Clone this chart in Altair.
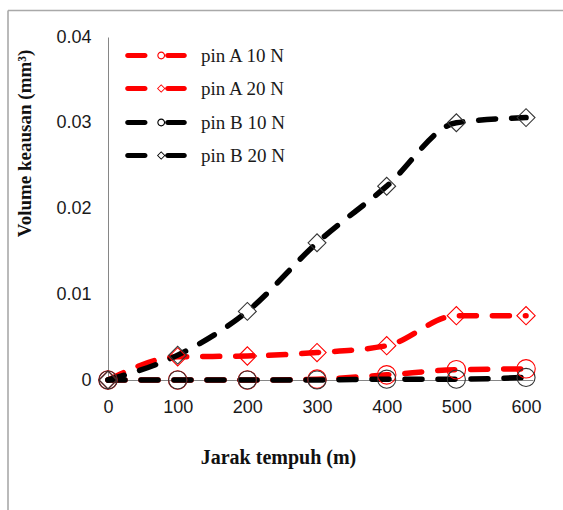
import altair as alt
import pandas as pd

# ---- data ----
distance = [0, 100, 200, 300, 400, 500, 600]
series_names = ["pin A 10 N", "pin A 20 N", "pin B 10 N", "pin B 20 N"]
pin_a_10 = [0.0, 0.0, 0.0, 0.0001, 0.0006, 0.0012, 0.0013]
pin_a_20 = [0.0, 0.0027, 0.0028, 0.0032, 0.0040, 0.0075, 0.0075]
pin_b_10 = [0.0, 0.0, 0.0, 0.0, 0.0001, 0.0001, 0.0003]
pin_b_20 = [0.0, 0.0029, 0.0080, 0.0160, 0.0226, 0.0300, 0.0306]
series_colors = ["#ff0000", "#ff0000", "#000000", "#000000"]
marker_colors = ["#ff0000", "#ff0000", "#333333", "#333333"]
series_shapes = ["circle", "diamond", "circle", "diamond"]
series_sizes = [340, 320, 210, 320]
circle_series = ["pin A 10 N", "pin B 10 N"]
diamond_series = ["pin A 20 N", "pin B 20 N"]
x_ticks = [0, 100, 200, 300, 400, 500, 600]
y_ticks = [0, 0.01, 0.02, 0.03, 0.04]

rows = []
for name, vals in zip(series_names, [pin_a_10, pin_a_20, pin_b_10, pin_b_20]):
    for d, v in zip(distance, vals):
        rows.append({"distance": d, "volume": v, "series": name})
df = pd.DataFrame(rows)
df_circ = df[df["series"].isin(circle_series)]
df_dia = df[df["series"].isin(diamond_series)]

# legend symbols: dash - hollow marker - dash, drawn as filled outlines
left_dash = "M-5.66,-0.5 L-2.2,-0.5 A0.5,0.5 0 0 1 -2.2,0.5 L-5.66,0.5 A0.5,0.5 0 0 1 -5.66,-0.5 Z"
right_dash = "M2.34,-0.5 L5.66,-0.5 A0.5,0.5 0 0 1 5.66,0.5 L2.34,0.5 A0.5,0.5 0 0 1 2.34,-0.5 Z"
ring = ("M1.82,0 A0.78,0.78 0 1 0 0.26,0 A0.78,0.78 0 1 0 1.82,0 Z "
        "M1.6,0 A0.56,0.56 0 1 1 0.48,0 A0.56,0.56 0 1 1 1.6,0 Z")
dia = ("M1.04,-0.84 L1.88,0 L1.04,0.84 L0.2,0 Z "
       "M1.04,-0.6 L0.44,0 L1.04,0.6 L1.64,0 Z")
circ_path = left_dash + " " + ring + " " + right_dash
dia_path = left_dash + " " + dia + " " + right_dash

legend_common = dict(
    title=None,
    orient="none",
    legendX=38.5,
    padding=0,
    symbolSize=100,
    symbolStrokeWidth=0,
    symbolOpacity=1,
    labelOffset=35.5,
    rowPadding=47,
    labelFont="Liberation Serif",
    labelFontSize=19,
    labelColor="#1a1a1a",
    labelLimit=300,
)

x_enc = alt.X(
    "distance:Q",
    scale=alt.Scale(domain=[0, 610], nice=False),
    axis=alt.Axis(
        values=x_ticks,
        title="Jarak tempuh (m)",
        grid=False,
        ticks=False,
        domainColor="#868686",
        labelFont="Liberation Sans",
        labelFontSize=18,
        labelColor="#1a1a1a",
        labelPadding=18,
        labelFlush=False,
        titleFont="Liberation Serif",
        titleFontWeight="bold",
        titleFontSize=20,
        titleColor="#111111",
        titleX=170,
        titleY=77,
        titleBaseline="middle",
        titleAlign="center",
    ),
)
y_enc = alt.Y(
    "volume:Q",
    scale=alt.Scale(domain=[0, 0.04], nice=False),
    axis=alt.Axis(
        values=y_ticks,
        format="~g",
        title="Volume keausan (mm³)",
        grid=False,
        ticks=False,
        domainColor="#868686",
        labelFont="Liberation Sans",
        labelFontSize=18,
        labelColor="#1a1a1a",
        labelPadding=17,
        labelFlush=False,
        titleFont="Liberation Serif",
        titleFontWeight="bold",
        titleFontSize=19,
        titleColor="#111111",
        titleX=-84,
        titleY=106,
        titleAngle=270,
        titleBaseline="middle",
        titleAlign="center",
    ),
)

lines = alt.Chart(df).mark_line(
    strokeWidth=5.5, strokeDash=[17, 16], strokeCap="round", interpolate="monotone"
).encode(
    x=x_enc,
    y=y_enc,
    stroke=alt.Stroke("series:N", scale=alt.Scale(domain=series_names, range=series_colors), legend=None),
    detail="series:N",
)

points = alt.Chart(df).mark_point(filled=False, strokeWidth=1.1, opacity=1, fill=None).encode(
    x="distance:Q",
    y="volume:Q",
    stroke=alt.Stroke("series:N", scale=alt.Scale(domain=series_names, range=marker_colors), legend=None),
    shape=alt.Shape("series:N", scale=alt.Scale(domain=series_names, range=series_shapes), legend=None),
    size=alt.Size("series:N", scale=alt.Scale(domain=series_names, range=series_sizes), legend=None),
)

# invisible layers that only carry the two interleaved legends
leg_circ = alt.Chart(df_circ).mark_point(filled=True, opacity=0).encode(
    x="distance:Q",
    y="volume:Q",
    fill=alt.Fill(
        "series:N",
        scale=alt.Scale(domain=circle_series, range=["#ff0000", "#000000"]),
        legend=alt.Legend(legendY=9, symbolType=circ_path, **legend_common),
    ),
)
leg_dia = alt.Chart(df_dia).mark_point(filled=True, opacity=0).encode(
    x="distance:Q",
    y="volume:Q",
    color=alt.Color(
        "series:N",
        scale=alt.Scale(domain=diamond_series, range=["#ff0000", "#000000"]),
        legend=alt.Legend(legendY=42, symbolType=dia_path, **legend_common),
    ),
)

frame_df = pd.DataFrame({"k": [0]})
frame_left = alt.Chart(frame_df).mark_rule(color="#a9a9a9", strokeWidth=1.6).encode(
    x=alt.value(-100), y=alt.value(-26.5), y2=alt.value(480)
)
frame_top = alt.Chart(frame_df).mark_rule(color="#a9a9a9", strokeWidth=1.6).encode(
    x=alt.value(-100), x2=alt.value(460), y=alt.value(-26.5)
)

chart = alt.layer(frame_left, frame_top, lines, points, leg_circ, leg_dia).resolve_scale(
    color="independent", fill="independent", stroke="independent"
).properties(
    width=425,
    height=343,
    autosize=alt.AutoSizeParams(type="none"),
    padding={"left": 108, "top": 37, "right": 30, "bottom": 130},
    background="white",
).configure_view(stroke=None)

chart.save("out.html", embed_options={"renderer": "svg", "actions": False})
